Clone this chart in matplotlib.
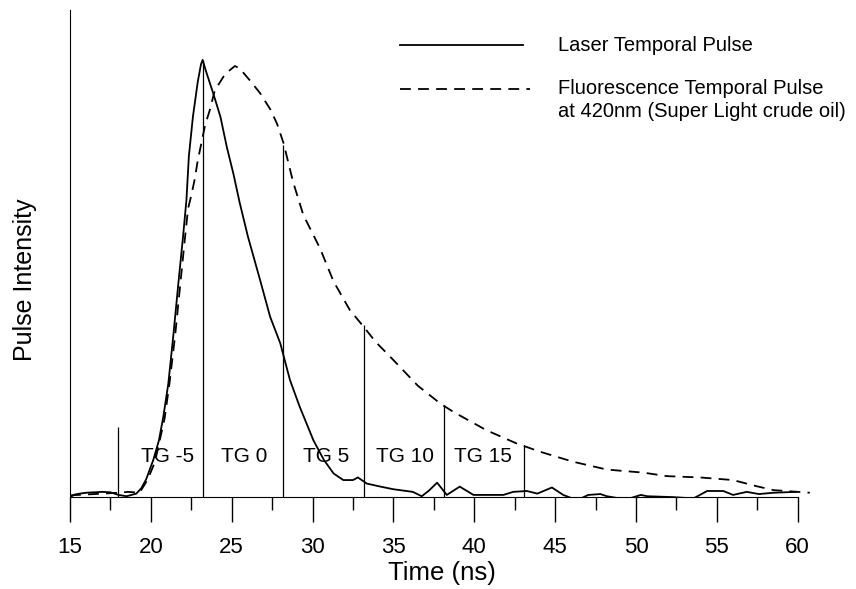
#!/usr/bin/env python3
"""Laser vs fluorescence temporal pulse with time-gate markers."""
import matplotlib
matplotlib.use("Agg")
import matplotlib.pyplot as plt
import numpy as np

plt.rcParams["font.family"] = ["Liberation Sans", "DejaVu Sans"]

# laser temporal pulse (normalised intensity vs time in ns)
laser_t = [15.0, 15.3, 15.6, 16.0, 16.5, 17.0, 17.5, 18.0, 18.5, 19.1, 19.4, 19.7,
           20.15, 20.5, 20.77, 21.08, 21.4, 21.7, 22.0, 22.2, 22.35, 22.6, 22.9,
           23.1, 23.2, 23.4, 23.85, 24.3, 24.7, 25.1, 25.5, 26.0, 26.75, 27.37, 28.0,
           28.3, 28.6, 29.2, 30.05, 30.7, 31.3, 31.9, 32.5, 32.8, 33.35, 34.2, 35.0,
           36.2, 36.75, 37.2, 37.7, 38.3, 39.1, 39.95, 41.8, 42.4, 43.25, 43.9, 44.8,
           45.5, 46.35, 47.05, 47.8, 48.2, 49.0, 49.6, 50.3, 50.7, 52.3, 53.55, 54.4,
           55.4, 56.0, 56.85, 57.6, 58.5, 59.9]
laser_i = [0.0, 0.006, 0.008, 0.010, 0.011, 0.012, 0.011, 0.005, 0.002, 0.008, 0.02, 0.04,
           0.085, 0.13, 0.184, 0.26, 0.374, 0.489, 0.60, 0.68, 0.78, 0.87, 0.95,
           0.99, 1.0, 0.975, 0.924, 0.87, 0.80, 0.74, 0.672, 0.596, 0.497, 0.413, 0.352,
           0.31, 0.268, 0.207, 0.13, 0.085, 0.054, 0.039, 0.039, 0.045, 0.031, 0.024, 0.018,
           0.012, 0.002, 0.015, 0.033, 0.005, 0.024, 0.005, 0.005, 0.012, 0.014, 0.008, 0.022,
           0.005, -0.007, 0.005, 0.007, 0.002, -0.003, -0.003, 0.005, 0.002, 0.0, -0.003, 0.014,
           0.014, 0.005, 0.012, 0.007, 0.010, 0.012]

# fluorescence temporal pulse at 420 nm
fluo_t = [15.0, 16.0, 17.0, 18.0, 18.6, 19.3, 19.8, 20.25, 20.85, 21.15, 21.5, 21.8,
          22.1, 22.3, 22.5, 22.7, 22.9, 23.35, 23.65, 23.95, 24.6, 25.2, 25.5, 26.1, 26.75,
          27.4, 27.8, 28.2, 28.8, 29.43, 30.46, 31.3, 32.3, 33.15, 33.9, 34.8, 35.5,
          36.5, 37.9, 38.7, 40.75, 42.6, 44.05, 46.1, 48.2, 50.45, 51.9, 53.95, 56.0,
          57.45, 58.5, 60.75]
fluo_i = [0.004, 0.006, 0.008, 0.010, 0.012, 0.010, 0.04, 0.08, 0.18, 0.26, 0.37, 0.48,
          0.59, 0.66, 0.69, 0.725, 0.77, 0.85, 0.886, 0.93, 0.968, 0.986, 0.98, 0.954, 0.924,
          0.886, 0.854, 0.81, 0.72, 0.645, 0.569, 0.493, 0.428, 0.39, 0.355, 0.321, 0.294,
          0.255, 0.214, 0.195, 0.153, 0.123, 0.104, 0.081, 0.063, 0.056, 0.048, 0.045, 0.039,
          0.025, 0.016, 0.010]

# time-gate markers
gate_t = [17.97, 23.2, 28.2, 33.2, 38.1, 43.05]
gate_top = [0.16, 1.0, 0.805, 0.394, 0.21, 0.12]
gate_labels = ["TG -5", "TG 0", "TG 5", "TG 10", "TG 15"]
gate_label_t = [21.06, 25.76, 30.83, 35.72, 40.54]
gate_label_y = 0.094

fig = plt.figure(figsize=(8.56, 5.89), dpi=100)
ax = fig.add_axes([0.0818, 0.156, 0.869, 0.827])

ax.plot(laser_t, laser_i, color="black", lw=1.3)
ax.plot(fluo_t, fluo_i, color="black", lw=1.3, linestyle=(0, (6, 4)), clip_on=False)
ax.vlines(gate_t, 0, gate_top, color="black", lw=0.9)
for lab, t in zip(gate_labels, gate_label_t):
    ax.text(t, gate_label_y, lab, ha="center", va="center", fontsize=15)

ax.set_xlim(15, 61)
ax.set_ylim(0, 1.114)
ax.set_xticks(np.arange(15, 61, 5))
ax.set_xticks(np.arange(17.5, 60, 5), minor=True)
ax.set_yticks([])
ax.tick_params(axis="x", which="major", direction="out", length=18, width=1,
               pad=11, labelsize=16)
ax.tick_params(axis="x", which="minor", direction="out", length=9, width=1)
for side in ("top", "right"):
    ax.spines[side].set_visible(False)
ax.spines["bottom"].set_bounds(15, 60)

ax.set_xlabel("Time (ns)", fontsize=18.5, labelpad=2)
fig.text(25 / 856, 1 - 280 / 589, "Pulse Intensity", rotation=90,
         ha="center", va="center", fontsize=18)

# hand-drawn legend
ax.plot([0.4435, 0.609], [0.928, 0.928], color="black", lw=1.3, transform=ax.transAxes)
ax.text(0.656, 0.928, "Laser Temporal Pulse", transform=ax.transAxes,
        va="center", ha="left", fontsize=14.5)
ax.plot([0.4435, 0.618], [0.838, 0.838], color="black", lw=1.3,
        linestyle=(0, (6, 4)), transform=ax.transAxes)
ax.text(0.656, 0.838, "Fluorescence Temporal Pulse", transform=ax.transAxes,
        va="center", ha="left", fontsize=14.5)
ax.text(0.656, 0.791, "at 420nm (Super Light crude oil)", transform=ax.transAxes,
        va="center", ha="left", fontsize=14.5)

fig.savefig("out.png", dpi=100)
